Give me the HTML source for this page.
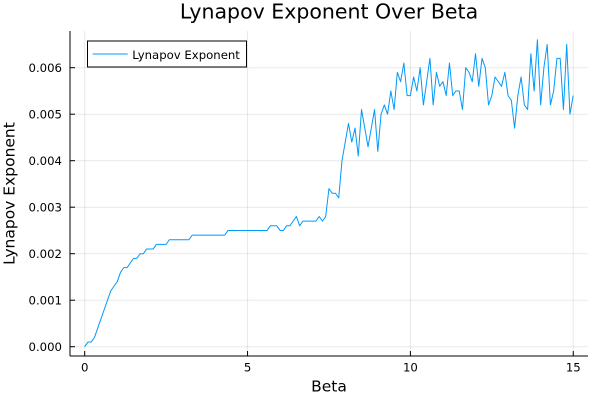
<!DOCTYPE html>
<html>
<head>
<meta charset="utf-8">
<style>
  html, body { margin: 0; padding: 0; background: #ffffff; }
  svg { display: block; }
  text { font-family: "DejaVu Sans", "Liberation Sans", sans-serif; fill: #000; }
</style>
</head>
<body>
<svg width="600" height="400" viewBox="0 0 600 400" xmlns="http://www.w3.org/2000/svg">
  <rect x="0" y="0" width="600" height="400" fill="#ffffff"/>

  <!-- grid -->
  <g stroke="#000" stroke-opacity="0.09" stroke-width="1">
    <line x1="84.7" y1="31" x2="84.7" y2="356"/>
    <line x1="247.55" y1="31" x2="247.55" y2="356"/>
    <line x1="410.4" y1="31" x2="410.4" y2="356"/>
    <line x1="573.25" y1="31" x2="573.25" y2="356"/>
    <line x1="70" y1="346.7" x2="588" y2="346.7"/>
    <line x1="70" y1="300.2" x2="588" y2="300.2"/>
    <line x1="70" y1="253.7" x2="588" y2="253.7"/>
    <line x1="70" y1="207.2" x2="588" y2="207.2"/>
    <line x1="70" y1="160.7" x2="588" y2="160.7"/>
    <line x1="70" y1="114.2" x2="588" y2="114.2"/>
    <line x1="70" y1="67.7" x2="588" y2="67.7"/>
  </g>

  <!-- axes -->
  <g stroke="#000" stroke-width="1" fill="none">
    <line x1="70" y1="31" x2="70" y2="356"/>
    <line x1="70" y1="356" x2="588" y2="356"/>
    <!-- x ticks -->
    <line x1="84.7" y1="356" x2="84.7" y2="351"/>
    <line x1="247.55" y1="356" x2="247.55" y2="351"/>
    <line x1="410.4" y1="356" x2="410.4" y2="351"/>
    <line x1="573.25" y1="356" x2="573.25" y2="351"/>
    <!-- y ticks -->
    <line x1="70" y1="346.7" x2="75" y2="346.7"/>
    <line x1="70" y1="300.2" x2="75" y2="300.2"/>
    <line x1="70" y1="253.7" x2="75" y2="253.7"/>
    <line x1="70" y1="207.2" x2="75" y2="207.2"/>
    <line x1="70" y1="160.7" x2="75" y2="160.7"/>
    <line x1="70" y1="114.2" x2="75" y2="114.2"/>
    <line x1="70" y1="67.7" x2="75" y2="67.7"/>
  </g>

  <!-- y tick labels -->
  <g font-size="11.7" text-anchor="end">
    <text x="62" y="350.9">0.000</text>
    <text x="62" y="304.4">0.001</text>
    <text x="62" y="257.9">0.002</text>
    <text x="62" y="211.4">0.003</text>
    <text x="62" y="164.9">0.004</text>
    <text x="62" y="118.4">0.005</text>
    <text x="62" y="71.9">0.006</text>
  </g>

  <!-- x tick labels -->
  <g font-size="11.7" text-anchor="middle">
    <text x="84.7" y="371.7">0</text>
    <text x="247.55" y="371.7">5</text>
    <text x="410.4" y="371.7">10</text>
    <text x="573.25" y="371.7">15</text>
  </g>

  <!-- title & axis labels -->
  <text x="329" y="18.3" font-size="20.5" text-anchor="middle">Lynapov Exponent Over Beta</text>
  <text x="329" y="391.7" font-size="15.5" text-anchor="middle">Beta</text>
  <text transform="translate(14.5,193.5) rotate(-90)" font-size="15.5" text-anchor="middle">Lynapov Exponent</text>

  <!-- series -->
  <g transform="translate(84.7,346.7) scale(3.2567,-4.65)">
    <polyline fill="none" stroke="#009afa" stroke-width="1" vector-effect="non-scaling-stroke" stroke-linejoin="round"
      points="0,0 1,1 2,1 3,2 4,4 5,6 6,8 7,10 8,12 9,13 10,14 11,16 12,17 13,17 14,18 15,19 16,19 17,20 18,20 19,21 20,21 21,21 22,22 23,22 24,22 25,22 26,23 32,23 33,24 43,24 44,25 56,25 57,26 58,26 59,26 60,25 61,25 62,26 63,26 64,27 65,28 66,26 67,27 71,27 72,28 73,27 74,28 75,34 76,33 77,33 78,32 79,40 80,44 81,48 82,44 83,47 84,41 85,51 86,47 87,43 88,47 89,51 90,42 91,50 92,52 93,50 94,55 95,51 96,59 97,57 98,61 99,54 100,54 101,58 102,55 103,60 104,52 105,57 106,62 107,52 108,59 109,56 110,57 111,54 112,61 113,54 114,55 115,55 116,51 117,60 118,59 119,57 120,63 121,56 122,62 123,60 124,52 125,54 126,58 127,57 128,56 129,59 130,54 131,53 132,47 133,54 134,58 135,52 136,51 137,63 138,55 139,66 140,52 141,60 142,65 143,52 144,55 145,62 146,62 147,51 148,65 149,50 150,54"/>
  </g>

  <!-- legend -->
  <rect x="87.5" y="41" width="159" height="26" fill="#ffffff" stroke="#000" stroke-width="1"/>
  <line x1="92.7" y1="54" x2="127.7" y2="54" stroke="#009afa" stroke-width="1"/>
  <text x="132.3" y="59" font-size="11.7">Lynapov Exponent</text>
</svg>
</body>
</html>
